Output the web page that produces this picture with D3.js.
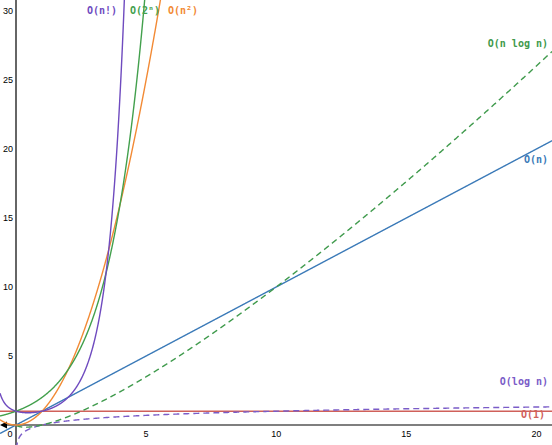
<!DOCTYPE html>
<html><head><meta charset="utf-8">
<script src="https://cdn.jsdelivr.net/npm/d3@7"></script>
<style>body{margin:0;background:#fff}text{font-family:"DejaVu Sans Mono",monospace}</style>
</head><body>
<svg id="c" width="552" height="445"></svg>
<script>
// chart data
var xTicks = [5, 10, 15, 20];
var yTicks = [5, 10, 15, 20, 25, 30];
var names = ["O(1)", "O(log n)", "O(n)", "O(n log n)", "O(n²)", "O(2ⁿ)", "O(n!)"];
var colors = ["#d0605a", "#7a5cc8", "#3b7ab8", "#3f9a4c", "#f28a35", "#43a04d", "#6f4bbf"];
var dashed = [false, true, false, true, false, false, false];
var labelPos = [[545, 418], [548, 385], [548, 163], [548, 47], [198, 14], [160, 14], [117, 14]];

function gamma(z) {
	if (z < 0.5) return Math.PI / (Math.sin(Math.PI * z) * gamma(1 - z));
	z -= 1;
	var g = 7, c = [0.99999999999980993, 676.5203681218851, -1259.1392167224028, 771.32342877765313,
		-176.61502916214059, 12.507343278686905, -0.13857109526572012, 9.9843695780195716e-6, 1.5056327351493116e-7];
	var x = c[0];
	for (var i = 1; i < g + 2; i++) x += c[i] / (z + i);
	var t = z + g + 0.5;
	return Math.sqrt(2 * Math.PI) * Math.pow(t, z + 0.5) * Math.exp(-t) * x;
}
var funcs = [
	function(n){ return 1; },
	function(n){ return Math.log10(n); },
	function(n){ return n; },
	function(n){ return n * Math.log10(n); },
	function(n){ return n * n; },
	function(n){ return Math.pow(2, n); },
	function(n){ return gamma(n + 1); }
];

var svg = d3.select("#c");
var x = d3.scaleLinear().domain([-0.615, 20.6]).range([0, 552]);
var y = d3.scaleLinear().domain([-1.45, 30.8]).range([445, 0]);

var defs = svg.append("defs");
defs.append("clipPath").attr("id", "clip").append("rect").attr("width", 552).attr("height", 445);

// axes
svg.append("line").attr("x1", 4).attr("x2", 552).attr("y1", y(0)).attr("y2", y(0)).attr("stroke", "#000").attr("stroke-width", 1.2);
svg.append("path").attr("d", "M0," + y(0) + "L7," + (y(0) - 3.5) + "L7," + (y(0) + 3.5) + "Z").attr("fill", "#000");
svg.append("line").attr("x1", x(0)).attr("x2", x(0)).attr("y1", 0).attr("y2", 445).attr("stroke", "#000").attr("stroke-width", 1.2);

svg.selectAll(".xt").data(xTicks).enter().append("text")
	.attr("x", function(d){ return x(d); }).attr("y", y(0) + 12)
	.attr("text-anchor", "middle").attr("font-size", 9).attr("font-family", "Liberation Sans, Arial")
	.style("font-family", "Liberation Sans, Arial").text(function(d){ return d; });
svg.append("text").attr("x", x(0) - 6).attr("y", y(0) + 12).attr("text-anchor", "middle")
	.attr("font-size", 9).style("font-family", "Liberation Sans, Arial").text("0");
svg.selectAll(".yt").data(yTicks).enter().append("text")
	.attr("x", x(0) - 3).attr("y", function(d){ return y(d) + 3; })
	.attr("text-anchor", "end").attr("font-size", 9)
	.style("font-family", "Liberation Sans, Arial").text(function(d){ return d; });

// curves
var g = svg.append("g").attr("clip-path", "url(#clip)");
funcs.forEach(function(f, i) {
	var lo = (i === 1 || i === 3) ? 0.02 : -0.615;
	var pts = d3.range(lo, 20.61, 0.01).map(function(n){ return [n, f(n)]; })
		.filter(function(p){ return p[1] < 40 && p[1] > -5; });
	g.append("path").datum(pts)
		.attr("d", d3.line().x(function(p){ return x(p[0]); }).y(function(p){ return y(p[1]); }))
		.attr("fill", "none").attr("stroke", colors[i]).attr("stroke-width", 1.4)
		.attr("stroke-dasharray", dashed[i] ? "6,4" : null);
});

// labels
names.forEach(function(nm, i) {
	svg.append("text").attr("x", labelPos[i][0]).attr("y", labelPos[i][1])
		.attr("text-anchor", "end").attr("font-size", 10).attr("font-weight", "bold")
		.attr("fill", colors[i]).text(nm);
});
</script>
</body></html>
